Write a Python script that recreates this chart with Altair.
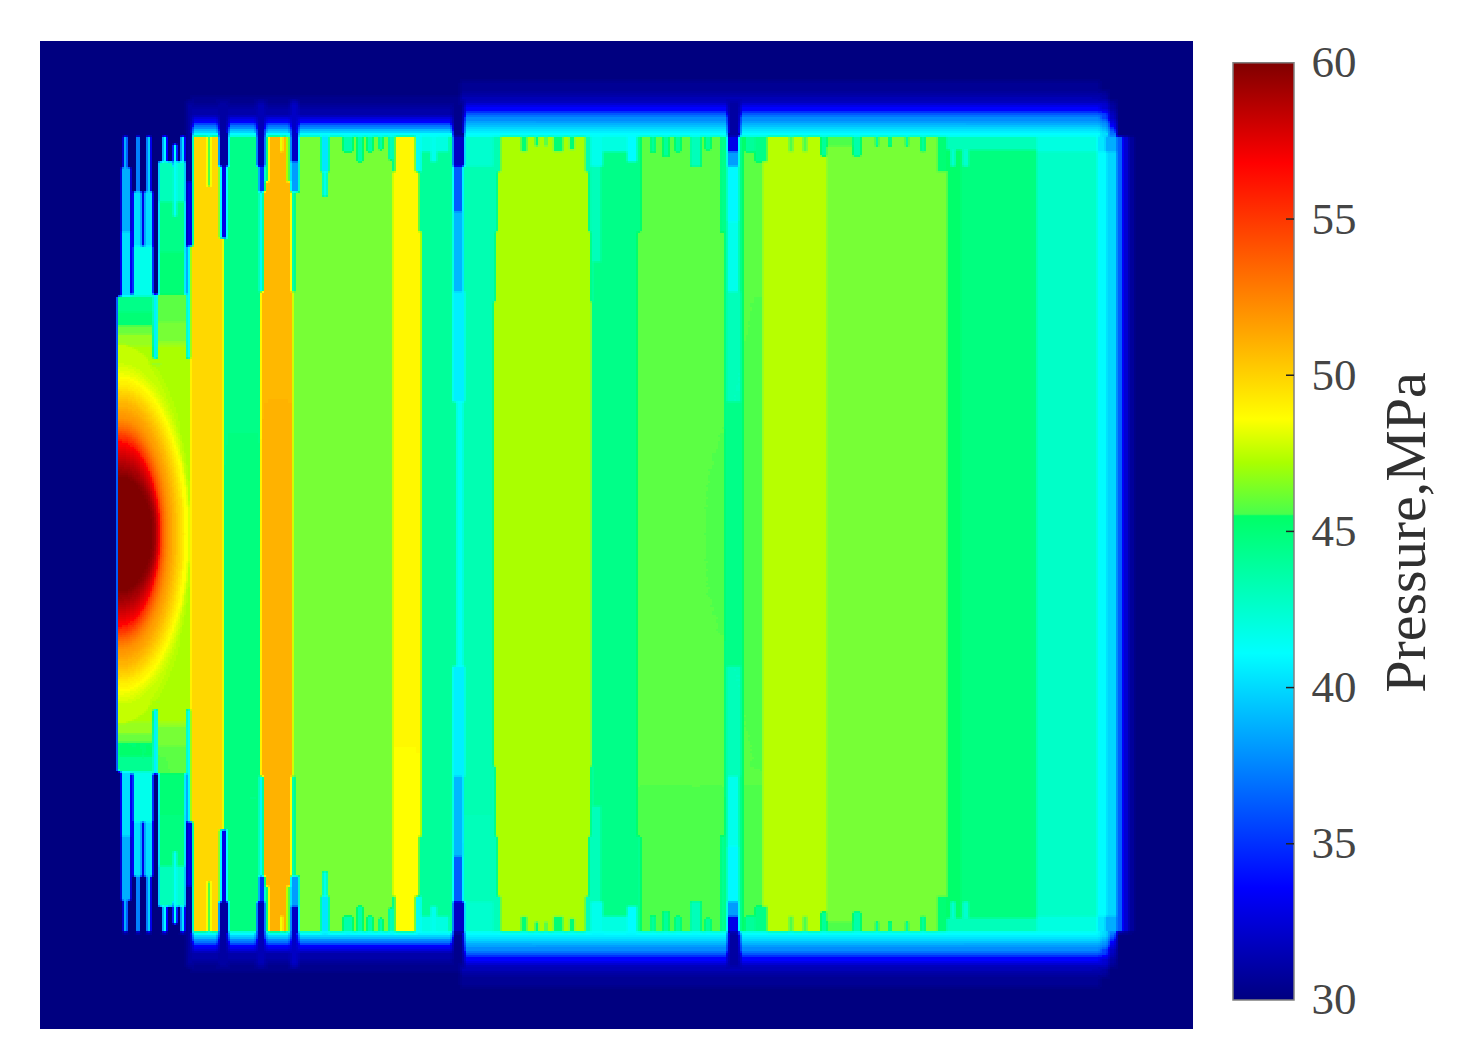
import altair as alt
import numpy as np
import pandas as pd

alt.data_transformers.disable_max_rows()

# Colour bar: stops (note the step just above 45.5)
CMAP_STOPS = [30, 33.6, 41.1, 45.5, 45.55, 47.2, 48.6, 51.4, 56.8, 60]
CMAP_COLORS = ["#000080", "#0000ff", "#00ffff", "#00ff66", "#48ff4c", "#aaff00",
               "#ffff00", "#ffa500", "#ff0000", "#800000"]
TICKS = [30, 35, 40, 45, 50, 55, 60]
INNER_TICKS = [35, 40, 45, 50, 55]

# Pressure of the vertical bands at mid height: (from x, to x, MPa)
BANDS = [
    (190, 223, 49.8), (223, 260, 44.9), (260, 292, 50.9), (292, 392, 46.2),
    (392, 421, 48.7), (421, 456, 44.4), (456, 463, 42.5), (463, 493, 43.7),
    (493, 591, 47.2), (591, 636, 44.75), (636, 724, 45.7), (724, 742, 44.8),
    (742, 762, 45.7), (762, 826, 47.4), (826, 946, 46.2), (946, 960, 45.4),
    (960, 1036, 45.0), (1036, 1097, 43.25), (1097, 1106, 41.0),
    (1106, 1116, 39.2), (1116, 1122, 35.0), (1122, 1128, 32.5), (1128, 1134, 30.8),
]

# Fade above the top of the bands: (from x, to x, [(y0, y1, MPa), ...])
FADES = [
    (190, 460, [(130, 135, 41), (124, 130, 37), (116, 124, 33.5), (105, 116, 31.2), (95, 105, 30.5)]),
    (460, 1100, [(131, 135, 41), (127, 131, 40), (122, 127, 38.6), (113, 122, 36.5),
                 (103, 113, 33.5), (93, 103, 31.5), (80, 93, 30.6)]),
    (1100, 1108, [(128, 135, 39.5), (120, 128, 37), (110, 120, 34.5), (100, 110, 32.5), (90, 100, 31)]),
    (1108, 1116, [(128, 135, 35.5), (120, 128, 33.5), (110, 120, 32), (100, 110, 31)]),
]

# Left end, below the comb: (y0, y1, MPa) for x 118..190
LEFT_ROWS = [(295, 310, 44.7), (310, 325, 45.3), (325, 333, 46.0), (333, 345, 46.8), (345, 533, 47.2)]

# Inlet blob around (118, 532): (x radius, y radius, MPa), outermost first
BLOB = [
    (72, 190, 47.6), (70, 164, 48.6), (65, 150, 49.6), (60, 140, 50.6), (55, 130, 51.4),
    (50, 118, 53.0), (46, 108, 55.0), (42, 100, 56.8), (40, 82, 58.5), (37, 65, 60.0),
]

# Slots, comb teeth and notches of the upper half: (x0, x1, y0, y1, MPa)
PATCHES = [
    # comb at the far left
    (158, 185, 165, 250, 44.9), (158, 185, 250, 293, 45.2), (152, 190, 293, 320, 45.7),
    (152, 190, 320, 340, 46.3),
    (121, 130, 166, 230, 37.5), (121, 130, 230, 295, 39.5), (123, 127, 135, 166, 37.5),
    (133, 141, 190, 245, 39.5), (136, 139, 135, 190, 39), (144, 152, 190, 245, 39.5),
    (146, 150, 135, 190, 39), (133, 152, 245, 295, 42), (130, 133, 293, 295, 42),
    (141, 144, 190, 245, 33),
    (162, 166, 135, 160, 41), (180, 184, 135, 165, 40), (158, 172, 160, 200, 43.5),
    (176, 185, 160, 200, 43), (173, 176, 143, 215, 41.5),
    (153, 157, 293, 357, 40.5), (186, 190, 245, 357, 41.5),
    # gold band shoulders and the slots beside it
    (207, 210, 135, 185, 45.5), (186, 192, 100, 180, 31), (186, 192, 180, 245, 33),
    (218, 228, 100, 165, 31), (221, 226, 165, 237, 33), (218, 221, 165, 237, 45.0),
    # orange band
    (256, 265, 100, 165, 31.5), (258, 264, 165, 190, 34), (259, 263, 190, 290, 41),
    (265, 268, 135, 180, 44.9), (286, 290, 135, 180, 45.5), (280, 282, 135, 150, 47),
    (290, 298, 100, 160, 32), (290, 298, 160, 190, 37), (291, 295, 190, 290, 44),
    # lime band notches
    (321, 328, 135, 170, 40), (322, 327, 170, 195, 42), (343, 352, 135, 150, 44),
    (357, 362, 135, 160, 44), (367, 372, 135, 150, 44), (378, 382, 135, 148, 44),
    (388, 392, 135, 158, 43.5),
    # yellow band shoulders
    (392, 395, 135, 170, 44), (415, 421, 135, 170, 41.5), (418, 421, 170, 230, 44.4),
    (421, 448, 135, 150, 42.5), (430, 436, 135, 160, 42),
    # slot at x = 458
    (452, 464, 100, 135, 30.5), (452, 464, 135, 165, 32), (453, 462, 165, 210, 35),
    (453, 463, 210, 290, 38), (452, 464, 290, 400, 40.5), (456, 462, 400, 533, 41.5),
    (464, 493, 135, 165, 43),
    # band 493..591
    (493, 500, 135, 170, 43.7), (493, 497, 170, 230, 43.7), (493, 495, 230, 300, 43.7),
    (585, 592, 135, 170, 43.7), (588, 592, 170, 230, 43.7), (590, 592, 230, 300, 43.7),
    (520, 527, 135, 150, 45.2),
    (534, 538, 135, 145, 45.2), (544, 547, 135, 145, 45.2), (553, 563, 135, 150, 45.2),
    (569, 574, 135, 148, 45.2), (590, 602, 135, 165, 42), (592, 600, 165, 260, 43.5),
    (602, 627, 135, 150, 42.5),
    # band 636..724 and the slot at x = 733
    (627, 637, 135, 160, 41), (636, 640, 135, 230, 44.7), (720, 724, 135, 230, 44.7),
    (650, 655, 135, 150, 44.5), (663, 668, 135, 155, 44.5), (675, 680, 135, 150, 44.5),
    (690, 700, 135, 165, 43.5), (705, 710, 135, 148, 44.5),
    (727, 740, 100, 135, 31), (727, 738, 135, 150, 33), (727, 738, 150, 165, 37),
    (727, 738, 165, 220, 40.8), (727, 738, 220, 290, 42), (726, 740, 290, 400, 43.5),
    (745, 755, 135, 150, 44.5), (755, 767, 135, 160, 44.8),
    # band 762..826
    (788, 793, 135, 150, 45.6), (802, 807, 135, 150, 45.6), (820, 826, 135, 155, 44.5),
    # band 826..946
    (826, 853, 135, 145, 45.6), (853, 860, 135, 155, 44), (875, 878, 135, 145, 44.5),
    (888, 891, 135, 145, 44.5), (905, 908, 135, 145, 44.5), (920, 925, 135, 150, 44.5),
    (937, 946, 135, 170, 45.2),
    # bands on the right
    (946, 1036, 135, 148, 43.5), (950, 955, 148, 165, 43), (962, 968, 148, 165, 43),
    (1036, 1097, 135, 150, 42.5), (1097, 1105, 135, 150, 40), (1105, 1116, 135, 150, 37.5),
]

X0, X1, Y0, Y1 = 40, 1193, 40, 1028
MIRROR = 1064      # y + y' of the up/down symmetry
CELL = 2
LEFT = 118         # left edge of the pressure field


def paint():
    c = np.full((Y1 - Y0, X1 - X0), 30.0)

    def put(x0, x1, y0, y1, v):
        c[y0 - Y0:y1 - Y0, x0 - X0:x1 - X0] = v

    for y0, y1, v in LEFT_ROWS:
        put(LEFT, 190, y0, y1, v)
    yy, xx = np.mgrid[Y0:Y1, X0:X1]
    for rx, ry, v in BLOB:
        m = (((xx - LEFT) / rx) ** 2 + ((yy - 532) / ry) ** 2 <= 1) & (xx >= LEFT) & (xx < 190)
        c[m] = v
    for x0, x1, v in BANDS:
        put(x0, x1, 135, 533, v)
    for x0, x1, rows in FADES:
        for y0, y1, v in rows:
            put(x0, x1, y0, y1, v)
    for x0, x1, y0, y1, v in PATCHES:
        put(x0, x1, y0, y1, v)
    # lower half is the mirror image of the upper half
    for y in range(533, Y1):
        m = MIRROR - y
        if Y0 <= m < Y1:
            c[y - Y0] = c[m - Y0]
    return c


def box(a, n, axis):
    pad = [(0, 0), (0, 0)]
    pad[axis] = (n // 2 + 1, n // 2)
    s = np.cumsum(np.pad(a, pad, mode="edge"), axis=axis)
    return (np.take(s, range(n, s.shape[axis]), axis=axis)
            - np.take(s, range(0, s.shape[axis] - n), axis=axis)) / n


def blur(a, ny, nx):
    return box(box(a, ny, 0), nx, 1)


raw = paint()
# hide the hard left edge of the inlet from the blur
r0, r1, lx = 295 - Y0, MIRROR - 295 - Y0, LEFT - X0
raw[r0:r1, :lx] = raw[r0:r1, lx:lx + 1]

field = blur(raw, 3, 3)
soft = blur(raw, 7, 5)                  # halo above and below the bands
field[:132 - Y0] = soft[:132 - Y0]
field[MIRROR - 132 - Y0:] = soft[MIRROR - 132 - Y0:]
inlet = blur(raw, 17, 9)                # smooth inlet blob
field[362 - Y0:MIRROR - 362 - Y0, lx:180 - X0] = inlet[362 - Y0:MIRROR - 362 - Y0, lx:180 - X0]
field[r0 - 3:r1 + 3, :lx - 1] = 30.0
field[r0:r1, lx - 3:lx] = 35.0

field = np.round(field[::CELL, ::CELL] * 5) / 5

# merge equal neighbours into larger rectangles
cells, last, start = [], None, 0
for r in range(field.shape[0] + 1):
    row = None
    if r < field.shape[0]:
        v = field[r]
        cut = [0] + list(np.nonzero(np.diff(v))[0] + 1) + [len(v)]
        row = [(cut[i], cut[i + 1], float(v[cut[i]])) for i in range(len(cut) - 1)]
    if row != last:
        if last is not None:
            for a, b, p in last:
                cells.append((X0 + a * CELL, min(X0 + b * CELL, X1),
                              Y0 + start * CELL, min(Y0 + r * CELL, Y1), p))
        last, start = row, r
df = pd.DataFrame(cells, columns=["x", "x2", "y", "y2", "p"])

color = alt.Color("p:Q", legend=None,
                  scale=alt.Scale(domain=CMAP_STOPS, range=CMAP_COLORS, clamp=True))

heat = alt.Chart(df).mark_rect(strokeWidth=0).encode(
    x=alt.X("x:Q", axis=None, scale=alt.Scale(domain=[X0, X1], nice=False, zero=False)),
    x2="x2:Q",
    y=alt.Y("y:Q", axis=None, scale=alt.Scale(domain=[Y1, Y0], nice=False, zero=False)),
    y2="y2:Q",
    color=color,
).properties(width=X1 - X0, height=Y1 - Y0)

span = CMAP_STOPS[-1] - CMAP_STOPS[0]
gradient = alt.Gradient(
    gradient="linear", x1=0, x2=0, y1=1, y2=0,
    stops=[alt.GradientStop(offset=(s - CMAP_STOPS[0]) / span, color=c)
           for s, c in zip(CMAP_STOPS, CMAP_COLORS)],
)
y_bar = alt.Scale(domain=[29.07, 60.7], nice=False, zero=False)
bar_df = pd.DataFrame({"lo": [30], "hi": [60]})
bar = alt.Chart(bar_df).mark_rect(fill=gradient, stroke="#808080", strokeWidth=1.5).encode(
    x=alt.value(0), x2=alt.value(61),
    y=alt.Y("lo:Q", scale=y_bar, axis=alt.Axis(
        orient="right", values=TICKS, format="d", domain=False, ticks=False, grid=False,
        labelFont="Liberation Serif", labelFontSize=45, labelColor="#454545", labelPadding=17,
        title="Pressure,MPa", titleFont="Liberation Serif", titleFontSize=58,
        titleFontWeight="normal", titleColor="#303030", titleAngle=270, titlePadding=80,
        titleY=491)),
    y2="hi:Q",
)
ticks = alt.Chart(pd.DataFrame({"t": INNER_TICKS})).mark_rule(color="#222222", strokeWidth=1.5).encode(
    x=alt.value(53), x2=alt.value(61), y=alt.Y("t:Q", scale=y_bar))
colorbar = alt.layer(bar, ticks).properties(width=61, height=Y1 - Y0)

chart = alt.hconcat(heat, colorbar, spacing=39).properties(
    padding={"left": 32, "top": 32, "right": 0, "bottom": 0},
    background="white",
).configure_view(stroke=None)

chart.save("out.html", embed_options={"renderer": "svg", "actions": False})
